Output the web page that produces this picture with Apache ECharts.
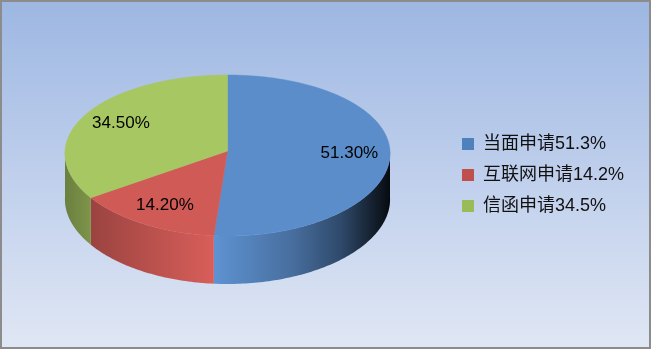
<!DOCTYPE html>
<html><head><meta charset="utf-8">
<script src="https://cdn.jsdelivr.net/npm/echarts@6/dist/echarts.min.js"></script>
<style>html,body{margin:0;padding:0;background:#fff}#c{width:651px;height:349px}</style>
</head><body><div id="c"></div><script>
// ---- data ----
const categories = ['当面申请', '互联网申请', '信函申请'];
const values = [51.3, 14.2, 34.5];
const topColors = ['#5b8dcb', '#d05a56', '#a7c763'];
const legendColors = ['#4f81bd', '#c0504d', '#9bbb59'];

// ---- geometry of the simulated 3D pie ----
const CX = 227.5, CY = 151, RX = 162.5, A = 80.5, B = 4.5, K = 0.03;
const total = values.reduce((s, v) => s + v, 0);
const starts = [];
values.reduce((acc, v, i) => { starts[i] = acc; return acc + v; }, 0);

function P(r, th) {
  const X = r * Math.sin(th), V = -r * Math.cos(th);
  return [CX + RX * X * (1 + K * V), CY + A * V + B * V * V];
}
function depth(th) { return 46 + 2 * (-Math.cos(th)); }

function hexToRgb(h) { return [1, 3, 5].map(i => parseInt(h.substr(i, 2), 16)); }
function shade(hex, f) {
  const c = hexToRgb(hex).map(v => Math.max(0, Math.min(255, Math.round(v * f))));
  return 'rgb(' + c.join(',') + ')';
}
const shadeStops = [[0, 0.64], [0.074, 0.74], [0.455, 1.04], [0.7, 0.78], [0.85, 0.52], [0.95, 0.22], [1, 0.08]];
function sideGradient(hex) {
  return {
    type: 'linear', global: true, x: CX - RX, y: 0, x2: CX + RX, y2: 0,
    colorStops: shadeStops.map(s => ({ offset: s[0], color: shade(hex, s[1]) }))
  };
}

function makeRender(idx) {
  return function (params, api) {
    const s = api.value(0), v = api.value(1);
    const th1 = s / total * Math.PI * 2, th2 = (s + v) / total * Math.PI * 2;
    const children = [];
    // top face
    const pts = [[CX, CY]];
    const n = Math.max(4, Math.ceil((th2 - th1) / (Math.PI / 180)));
    for (let k = 0; k <= n; k++) pts.push(P(1, th1 + (th2 - th1) * k / n));
    children.push({ type: 'polygon', z2: 10, shape: { points: pts }, style: { fill: topColors[idx], stroke: topColors[idx], lineWidth: 0.5 } });
    // outer side wall (front half only)
    const a = Math.max(th1, Math.PI / 2), b = Math.min(th2, Math.PI * 1.5);
    if (a < b) {
      const m = Math.max(4, Math.ceil((b - a) / (Math.PI / 180)));
      const topPts = [], botPts = [];
      for (let k = 0; k <= m; k++) {
        const th = a + (b - a) * k / m;
        const p = P(1, th);
        topPts.push(p);
        botPts.push([p[0], p[1] + depth(th)]);
      }
      children.push({ type: 'polygon', z2: 1, shape: { points: topPts.concat(botPts.reverse()) }, style: { fill: sideGradient(topColors[idx]) } });
    }
    // label
    const lp = P(0.75, (th1 + th2) / 2);
    children.push({
      type: 'text', z2: 20, x: lp[0], y: lp[1],
      style: { text: v.toFixed(2) + '%', fill: '#000', fontSize: 17, fontFamily: 'Liberation Sans, Arial, sans-serif', align: 'center', verticalAlign: 'middle' }
    });
    return { type: 'group', children: children };
  };
}

const chart = echarts.init(document.getElementById('c'));
chart.setOption({
  animation: false,
  backgroundColor: { type: 'linear', x: 0, y: 0, x2: 0, y2: 1, colorStops: [{ offset: 0, color: '#9db7e2' }, { offset: 0.5, color: '#bfcfec' }, { offset: 1, color: '#e0e7f4' }] },
  legend: {
    orient: 'vertical', left: 457, top: 130, itemWidth: 12, itemHeight: 12, itemGap: 13, icon: 'rect',
    data: categories,
    formatter: name => name + values[categories.indexOf(name)].toFixed(1) + '%',
    textStyle: { fontSize: 18, lineHeight: 18, color: '#111', fontFamily: 'Liberation Sans, Noto Sans CJK SC, sans-serif', padding: [0, 0, 0, 4] }
  },
  graphic: [{ type: 'rect', silent: true, z: 100, shape: { x: 1, y: 1, width: 649, height: 347 }, style: { fill: 'none', stroke: '#8c8c8c', lineWidth: 2 } }],
  series: categories.map((c, i) => ({
    type: 'custom', name: c, coordinateSystem: 'none',
    itemStyle: { color: legendColors[i] },
    renderItem: makeRender(i),
    data: [[starts[i], values[i]]]
  }))
});
</script></body></html>
